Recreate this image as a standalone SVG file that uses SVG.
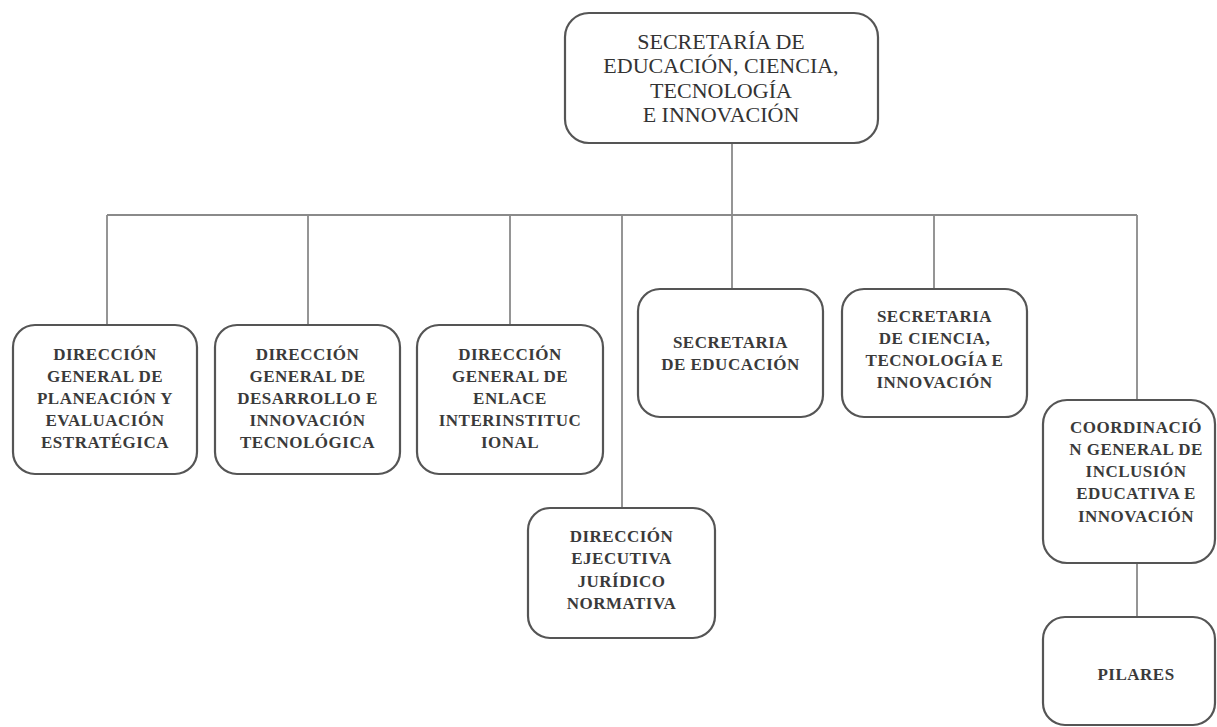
<svg xmlns="http://www.w3.org/2000/svg" width="1217" height="727" viewBox="0 0 1217 727">
<style>
.box{fill:#fff;stroke:#555;stroke-width:2.2}
.ln{fill:none;stroke:#8a8a8a;stroke-width:1.8}
.t{font-family:'Liberation Serif','Times New Roman',serif;font-size:17px;font-weight:bold;letter-spacing:0.5px;fill:#3a3a3a;text-anchor:middle}
.tt{font-family:'Liberation Serif','Times New Roman',serif;font-size:22px;fill:#333;text-anchor:middle}
</style>
<rect width="1217" height="727" fill="#fff"/>
<g id="connectors">
<line class="ln" x1="732" y1="143" x2="732" y2="215"/>
<line class="ln" x1="107" y1="215" x2="1137" y2="215"/>
<line class="ln" x1="107" y1="215" x2="107" y2="325"/>
<line class="ln" x1="308" y1="215" x2="308" y2="325"/>
<line class="ln" x1="510" y1="215" x2="510" y2="325"/>
<line class="ln" x1="622" y1="215" x2="622" y2="508"/>
<line class="ln" x1="732" y1="215" x2="732" y2="289"/>
<line class="ln" x1="934" y1="215" x2="934" y2="289"/>
<line class="ln" x1="1137" y1="215" x2="1137" y2="400"/>
<line class="ln" x1="1137" y1="563" x2="1137" y2="617"/>
</g>
<g id="n-top">
<rect class="box" x="565" y="13" width="313" height="130" rx="24"/>
<text class="tt"><tspan x="721" y="49">SECRETARÍA DE</tspan><tspan x="721" y="73">EDUCACIÓN, CIENCIA,</tspan><tspan x="721" y="98">TECNOLOGÍA</tspan><tspan x="721" y="122">E INNOVACIÓN</tspan></text>
</g>
<g id="n-planeacion">
<rect class="box" x="13" y="325" width="184" height="149" rx="22"/>
<text class="t"><tspan x="105" y="360">DIRECCIÓN</tspan><tspan x="105" y="382">GENERAL DE</tspan><tspan x="105" y="404">PLANEACIÓN Y</tspan><tspan x="105" y="426">EVALUACIÓN</tspan><tspan x="105" y="448">ESTRATÉGICA</tspan></text>
</g>
<g id="n-desarrollo">
<rect class="box" x="215" y="325" width="185" height="149" rx="22"/>
<text class="t"><tspan x="307.5" y="360">DIRECCIÓN</tspan><tspan x="307.5" y="382">GENERAL DE</tspan><tspan x="307.5" y="404">DESARROLLO E</tspan><tspan x="307.5" y="426">INNOVACIÓN</tspan><tspan x="307.5" y="448">TECNOLÓGICA</tspan></text>
</g>
<g id="n-enlace">
<rect class="box" x="417" y="325" width="186" height="149" rx="22"/>
<text class="t"><tspan x="510" y="360">DIRECCIÓN</tspan><tspan x="510" y="382">GENERAL DE</tspan><tspan x="510" y="404">ENLACE</tspan><tspan x="510" y="426">INTERINSTITUC</tspan><tspan x="510" y="448">IONAL</tspan></text>
</g>
<g id="n-juridico">
<rect class="box" x="528" y="508" width="187" height="130" rx="22"/>
<text class="t"><tspan x="621.5" y="542">DIRECCIÓN</tspan><tspan x="621.5" y="564">EJECUTIVA</tspan><tspan x="621.5" y="587">JURÍDICO</tspan><tspan x="621.5" y="609">NORMATIVA</tspan></text>
</g>
<g id="n-educacion">
<rect class="box" x="638" y="289" width="185" height="128" rx="22"/>
<text class="t"><tspan x="730.5" y="348">SECRETARIA</tspan><tspan x="730.5" y="370">DE EDUCACIÓN</tspan></text>
</g>
<g id="n-ciencia">
<rect class="box" x="842" y="289" width="185" height="128" rx="22"/>
<text class="t"><tspan x="934.5" y="322">SECRETARIA</tspan><tspan x="934.5" y="344">DE CIENCIA,</tspan><tspan x="934.5" y="366">TECNOLOGÍA E</tspan><tspan x="934.5" y="388">INNOVACIÓN</tspan></text>
</g>
<g id="n-coordinacion">
<rect class="box" x="1043" y="400" width="172" height="163" rx="24"/>
<text class="t"><tspan x="1136" y="433">COORDINACIÓ</tspan><tspan x="1136" y="455">N GENERAL DE</tspan><tspan x="1136" y="477">INCLUSIÓN</tspan><tspan x="1136" y="499">EDUCATIVA E</tspan><tspan x="1136" y="522">INNOVACIÓN</tspan></text>
</g>
<g id="n-pilares">
<rect class="box" x="1043" y="617" width="172" height="108" rx="22"/>
<text class="t"><tspan x="1136" y="680">PILARES</tspan></text>
</g>
</svg>
